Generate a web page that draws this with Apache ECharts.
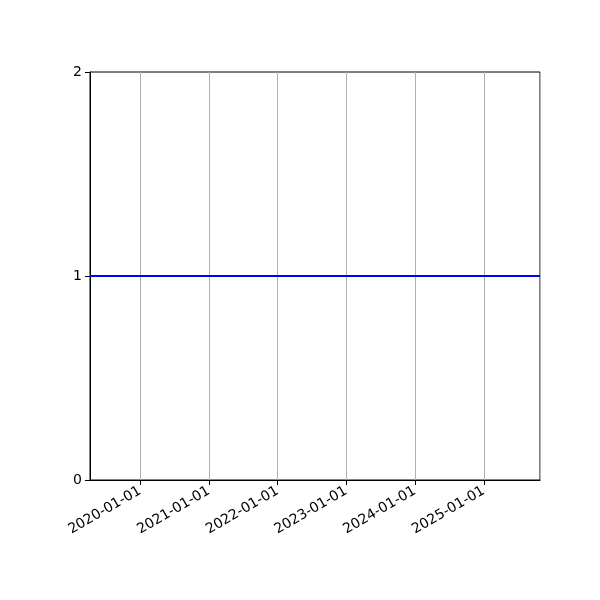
<!DOCTYPE html>
<html lang="en">
<head>
    <meta charset="UTF-8">
    <title>Constant line</title>
    <script src="https://cdn.jsdelivr.net/npm/echarts@6/dist/echarts.min.js"></script>
    <style>
        html, body{
            margin: 0;
            background: #fff;
        }
        #box{
            width: 600px;
            height: 600px;
        }
    </style>
</head>
<body>
<div id="box"></div>
<script>
    // data
    var dates = ['2019-04-10', '2025-10-27'];
    var values = [1, 1];
    var yTicks = [0, 1, 2];
    var xRange = ['2019-04-10', '2025-10-27'];

    var seriesData = [];
    for (var i = 0; i < dates.length; i++) {
        seriesData.push([dates[i], values[i]]);
    }

    var myChart = echarts.init(document.getElementById('box'));
    var font = 'DejaVu Sans';
    var option = {
        backgroundColor: '#fff',
        animation: false,
        grid: {
            left: 90,
            right: 60,
            top: 72,
            bottom: 120,
            show: true,
            borderColor: '#000',
            borderWidth: 1,
            backgroundColor: 'transparent'
        },
        xAxis: {
            type: 'time',
            min: xRange[0],
            max: xRange[1],
            splitNumber: 6,
            minInterval: 365 * 24 * 3600 * 1000,
            axisLine: {show: true, lineStyle: {color: '#000', width: 1}},
            axisTick: {show: true, length: 5, lineStyle: {color: '#000'}},
            splitLine: {show: true, lineStyle: {color: '#b0b0b0', width: 1}},
            axisLabel: {
                rotate: 30,
                color: '#000',
                fontFamily: font,
                fontSize: 14,
                margin: 10,
                showMinLabel: false,
                showMaxLabel: false,
                formatter: function (val) {
                    return echarts.time.format(val, '{yyyy}-{MM}-{dd}', false);
                },
                rich: {}
            }
        },
        yAxis: {
            type: 'value',
            min: yTicks[0],
            max: yTicks[yTicks.length - 1],
            interval: 1,
            axisLine: {show: true, lineStyle: {color: '#000', width: 1}},
            axisTick: {show: true, length: 5, lineStyle: {color: '#000'}},
            splitLine: {show: false},
            axisLabel: {
                color: '#000',
                fontFamily: font,
                fontSize: 14,
                margin: 8
            }
        },
        series: [
            {
                type: 'line',
                data: seriesData,
                showSymbol: false,
                lineStyle: {color: '#0000ff', width: 2},
                itemStyle: {color: '#0000ff'}
            }
        ]
    };
    myChart.setOption(option);
</script>
</body>
</html>
